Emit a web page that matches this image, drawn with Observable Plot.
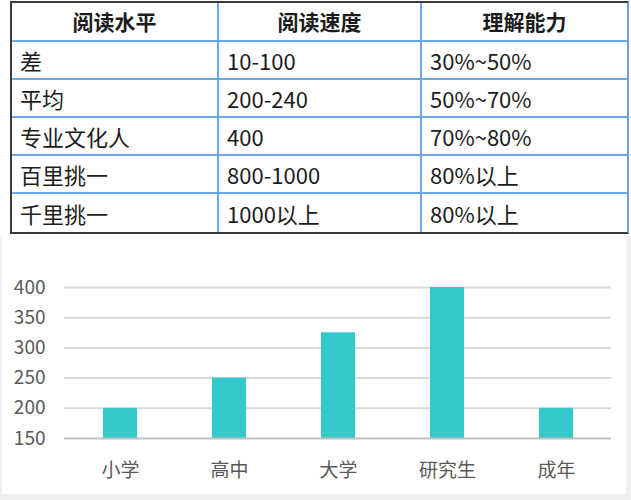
<!DOCTYPE html>
<html>
<head>
<meta charset="utf-8">
<script src="https://cdn.jsdelivr.net/npm/d3@7"></script>
<script src="https://cdn.jsdelivr.net/npm/@observablehq/plot@0.6"></script>
<style>
  html, body { margin: 0; padding: 0; background: #ffffff; width: 631px; height: 500px; overflow: hidden; }
  body { font-family: "Noto Sans CJK SC", "Noto Sans", sans-serif; position: relative; }
  #tbl { position: absolute; left: 10px; top: 1px; width: 615px; height: 232px;
         border-collapse: separate; border-spacing: 0; box-sizing: border-box;
         border-left: 2px solid #3a3a3a; border-top: 2px solid #3a3a3a; border-bottom: 2px solid #3a3a3a; border-right: 2px solid #6f9fd8;
         table-layout: fixed; color: #1c1c1c; }
  #tbl td, #tbl th { border-right: 2px solid #6ea6e6; border-bottom: 2px solid #6ea6e6; padding: 0 0 0 8px; font-size: 22px; line-height: 1; text-align: left; font-weight: 400; white-space: nowrap; }
  #tbl th { text-align: center; font-weight: 700; font-size: 21px; padding: 0; }
  #tbl tr > *:last-child { border-right: none; }
  #tbl tr:last-child > * { border-bottom: none; }
  #panelBg { position: absolute; left: 0; top: 236px; width: 631px; height: 264px; background: #efefef; }
  #panel { position: absolute; left: 2px; top: 236px; width: 624px; height: 258px; background: #ffffff; }
  #chart { position: absolute; left: 0; top: 240px; }
</style>
</head>
<body>
<table id="tbl"></table>
<div id="panelBg"></div>
<div id="panel"></div>
<div id="chart"></div>
<script>
// Table data
const tableHeaders = ["阅读水平", "阅读速度", "理解能力"];
const readingLevels = ["差", "平均", "专业文化人", "百里挑一", "千里挑一"];
const readingSpeeds = ["10-100", "200-240", "400", "800-1000", "1000以上"];
const comprehension = ["30%~50%", "50%~70%", "70%~80%", "80%以上", "80%以上"];

// Chart data
const categories = ["小学", "高中", "大学", "研究生", "成年"];
const speedValues = [200, 250, 325, 400, 200];
const yTicks = [150, 200, 250, 300, 350, 400];

// Build table
const tbl = document.getElementById("tbl");
const colWidths = [207, 203, 205];
const cg = document.createElement("colgroup");
colWidths.forEach(w => { const c = document.createElement("col"); c.style.width = w + "px"; cg.appendChild(c); });
tbl.appendChild(cg);
const hr = document.createElement("tr");
hr.style.height = "39px";
tableHeaders.forEach(h => { const th = document.createElement("th"); th.textContent = h; hr.appendChild(th); });
tbl.appendChild(hr);
readingLevels.forEach((lvl, i) => {
  const tr = document.createElement("tr");
  tr.style.height = "38px";
  [lvl, readingSpeeds[i], comprehension[i]].forEach(v => { const td = document.createElement("td"); td.textContent = v; tr.appendChild(td); });
  tbl.appendChild(tr);
});

// Build chart
const data = categories.map((c, i) => ({cat: c, value: speedValues[i]}));
const chart = Plot.plot({
  width: 631,
  height: 250,
  marginTop: 47,
  marginBottom: 52,
  marginLeft: 64,
  marginRight: 20,
  style: {background: "transparent", fontFamily: "'Noto Sans CJK SC', 'Noto Sans', sans-serif", fontSize: "19px", color: "#595959", overflow: "visible"},
  x: {domain: categories, paddingInner: 0.69, paddingOuter: 0.345, label: null},
  y: {domain: [yTicks[0], yTicks[yTicks.length - 1]], ticks: yTicks, label: null},
  marks: [
    Plot.ruleY(yTicks.slice(1), {stroke: "#d9d9d9", strokeWidth: 2}),
    Plot.barY(data, {x: "cat", y1: yTicks[0], y2: "value", fill: "#33c9ca"}),
    Plot.ruleY([yTicks[0]], {stroke: "#bfbfbf", strokeWidth: 2}),
    Plot.axisY({ticks: yTicks, tickSize: 0, tickPadding: 19, fill: "#595959", fontSize: 19}),
    Plot.axisX({tickSize: 0, tickPadding: 25, fill: "#595959", fontSize: 19})
  ]
});
document.getElementById("chart").appendChild(chart);
</script>
</body>
</html>
